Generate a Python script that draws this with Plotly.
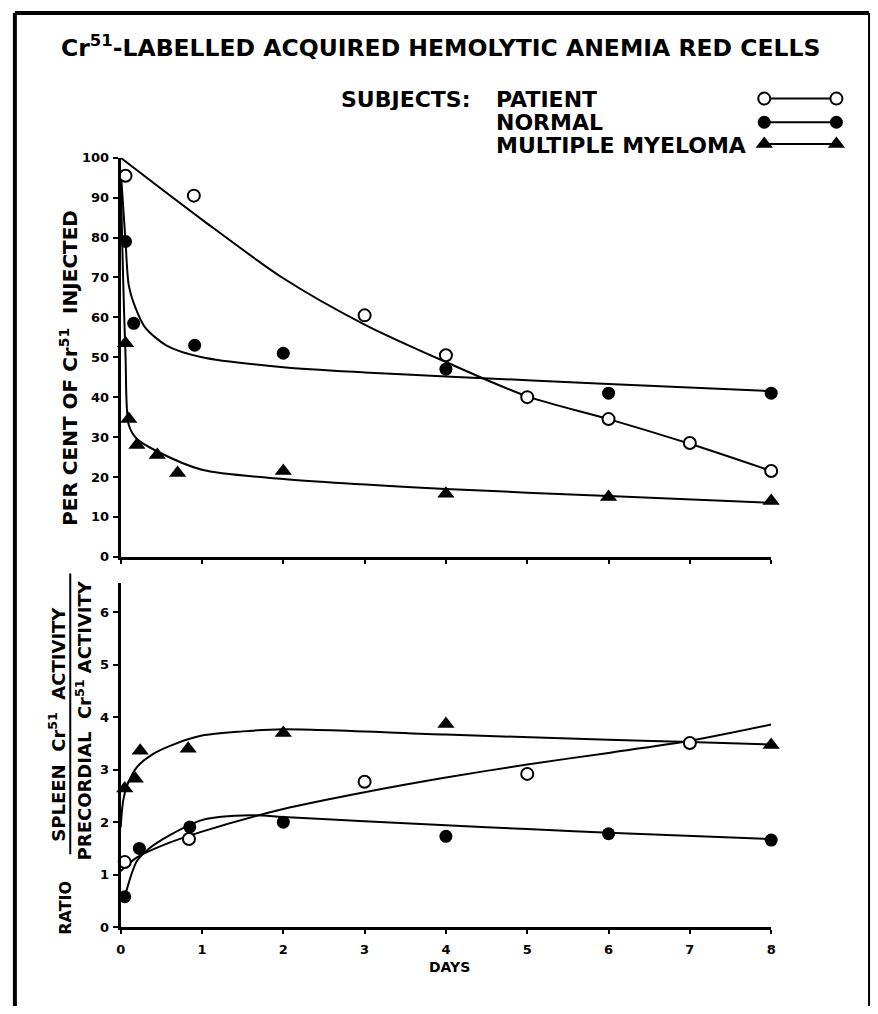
import plotly.graph_objects as go

# ---------------- data ----------------
# Top panel: per cent of Cr51 injected
pt_top_days = [0.06, 0.9, 3, 4, 5, 6, 7, 8]
pt_top_vals = [95.5, 90.5, 60.5, 50.5, 40, 34.5, 28.5, 21.5]
pt_top_curve_days = [0, 1, 2, 3, 4, 5, 6, 7, 8]
pt_top_curve_vals = [100, 84.5, 69.8, 58.2, 48.8, 40.2, 34.5, 28.3, 21.5]

nm_top_days = [0.06, 0.16, 0.91, 2, 4, 6, 8]
nm_top_vals = [79, 58.5, 53, 51, 47, 41, 41]
nm_top_curve_days = [0, 0.03, 0.06, 0.1, 0.18, 0.3, 0.56, 1.0, 2.0, 3.0, 4.0, 6.0, 8.0]
nm_top_curve_vals = [97, 88, 79, 68, 62.5, 57.5, 53, 50, 47.5, 46.2, 45.2, 43.3, 41.5]

mm_top_days = [0.06, 0.1, 0.2, 0.45, 0.7, 2, 4, 6, 8]
mm_top_vals = [53.5, 34.5, 28, 25.5, 21, 21.5, 15.8, 15, 14]
mm_top_curve_days = [0, 0.03, 0.06, 0.1, 0.2, 0.44, 1.0, 2.0, 4.0, 6.0, 8.0]
mm_top_curve_vals = [95, 70, 50, 33, 29.5, 26.5, 21.8, 19.5, 17, 15.2, 13.5]

# Bottom panel: ratio spleen / precordial activity
pt_bot_days = [0.05, 0.84, 3, 5, 7]
pt_bot_vals = [1.24, 1.68, 2.77, 2.92, 3.51]
pt_bot_curve_days = [0, 0.2, 0.5, 1, 2, 3, 4, 5, 6, 7, 8]
pt_bot_curve_vals = [1.07, 1.33, 1.55, 1.82, 2.25, 2.57, 2.85, 3.1, 3.32, 3.55, 3.86]

nm_bot_days = [0.05, 0.23, 0.85, 2, 4, 6, 8]
nm_bot_vals = [0.58, 1.5, 1.91, 2.0, 1.73, 1.78, 1.66]
nm_bot_curve_days = [0.05, 0.2, 0.35, 0.6, 1.0, 1.6, 2.0, 3.0, 4.0, 5.0, 6.0, 8.0]
nm_bot_curve_vals = [0.58, 1.26, 1.5, 1.75, 2.04, 2.13, 2.1, 2.02, 1.94, 1.87, 1.8, 1.68]

mm_bot_days = [0.05, 0.18, 0.24, 0.83, 2, 4, 8]
mm_bot_vals = [2.64, 2.83, 3.36, 3.4, 3.7, 3.87, 3.47]
mm_bot_curve_days = [0, 0.03, 0.08, 0.2, 0.4, 0.6, 1.0, 1.5, 2.0, 4.0, 6.0, 7.0, 8.0]
mm_bot_curve_vals = [1.9, 2.4, 2.7, 3.05, 3.3, 3.45, 3.65, 3.73, 3.77, 3.67, 3.57, 3.53, 3.48]

day_ticks = [0, 1, 2, 3, 4, 5, 6, 7, 8]
pct_ticks = [0, 10, 20, 30, 40, 50, 60, 70, 80, 90, 100]
ratio_ticks = [0, 1, 2, 3, 4, 5, 6]

legend_names = ["PATIENT", "NORMAL", "MULTIPLE MYELOMA"]

# ---------------- styling ----------------
W, H = 878, 1014
FONT = "DejaVu Sans"


def px(x):
    return x / W


def py(y):
    return 1 - y / H


open_marker = dict(symbol="circle", size=12, color="white", line=dict(color="black", width=2))
fill_marker = dict(symbol="circle", size=13, color="black", line=dict(color="black", width=0))
tri_marker = dict(symbol="triangle-up", size=15, color="black", line=dict(color="black", width=0))
curve_line = dict(color="black", width=2, shape="spline", smoothing=0.8)

fig = go.Figure()


def add_panel(xa, ya, sets):
    for cd, cv, d, v, mk in sets:
        fig.add_trace(go.Scatter(x=cd, y=cv, mode="lines", line=curve_line,
                                 xaxis=xa, yaxis=ya, showlegend=False, hoverinfo="skip"))
    for cd, cv, d, v, mk in sets:
        fig.add_trace(go.Scatter(x=d, y=v, mode="markers", marker=mk, cliponaxis=False,
                                 xaxis=xa, yaxis=ya, showlegend=False))


add_panel("x", "y", [
    (pt_top_curve_days, pt_top_curve_vals, pt_top_days, pt_top_vals, open_marker),
    (nm_top_curve_days, nm_top_curve_vals, nm_top_days, nm_top_vals, fill_marker),
    (mm_top_curve_days, mm_top_curve_vals, mm_top_days, mm_top_vals, tri_marker),
])
add_panel("x2", "y2", [
    (pt_bot_curve_days, pt_bot_curve_vals, pt_bot_days, pt_bot_vals, open_marker),
    (nm_bot_curve_days, nm_bot_curve_vals, nm_bot_days, nm_bot_vals, fill_marker),
    (mm_bot_curve_days, mm_bot_curve_vals, mm_bot_days, mm_bot_vals, tri_marker),
])

# legend keys drawn on a full-page pixel axis
leg_rows = [93, 117, 139]
for row, mk in zip(leg_rows, [open_marker, fill_marker, tri_marker]):
    fig.add_trace(go.Scatter(x=[768, 841], y=[row, row], mode="lines+markers",
                             line=dict(color="black", width=2), marker=mk, cliponaxis=False,
                             xaxis="x3", yaxis="y3", showlegend=False, hoverinfo="skip"))

xd = [px(117), px(775)]
axis_common = dict(showline=True, linecolor="black", linewidth=3, showgrid=False,
                   zeroline=False, ticks="outside", tickcolor="black", tickwidth=2,
                   tickfont=dict(family=FONT, size=13, color="black", weight="bold"))

fig.update_layout(
    width=W, height=H,
    margin=dict(l=0, r=0, t=0, b=0),
    paper_bgcolor="white", plot_bgcolor="rgba(0,0,0,0)",
    hovermode=False,
    xaxis=dict(domain=xd, range=[0, 8], anchor="y", tickvals=day_ticks,
               showticklabels=False, ticklen=4, **axis_common),
    yaxis=dict(domain=[py(558), py(153)], range=[0, 100], anchor="x",
               tickvals=pct_ticks, ticklen=5, ticklabelstandoff=1, **axis_common),
    xaxis2=dict(domain=xd, range=[0, 8], anchor="y2", tickvals=day_ticks,
                ticklen=4, ticklabelstandoff=4, **axis_common),
    yaxis2=dict(domain=[py(934), py(585)], range=[0, 6.55], anchor="x2",
                tickvals=ratio_ticks, ticklen=5, ticklabelstandoff=1, **axis_common),
    xaxis3=dict(domain=[0, 1], range=[0, W], anchor="y3", visible=False, fixedrange=True),
    yaxis3=dict(domain=[0, 1], range=[H, 0], anchor="x3", visible=False, fixedrange=True),
)

bold = lambda s: dict(family=FONT, size=s, color="black", weight="bold")
ann = []
ann.append(dict(text="Cr<sup>51</sup>-LABELLED ACQUIRED HEMOLYTIC ANEMIA RED CELLS",
                x=px(441), y=py(40), font=bold(23.5)))
ann.append(dict(text="SUBJECTS:", x=px(473), y=py(93), xanchor="right", font=bold(22),
                height=22, valign="middle"))
for name, row in zip(legend_names, [93, 117, 140]):
    ann.append(dict(text=name, x=px(495), y=py(row), xanchor="left", font=bold(22),
                    height=22, valign="middle"))
ann.append(dict(text="PER CENT OF Cr<sup>51</sup>  INJECTED", x=px(64), y=py(366),
                textangle=-90, font=bold(20)))
ann.append(dict(text="RATIO", x=px(61), y=py(914), textangle=-90, font=bold(16)))
ann.append(dict(text="SPLEEN  Cr<sup>51</sup>  ACTIVITY", x=px(53), y=py(728),
                textangle=-90, font=bold(18)))
ann.append(dict(text="PRECORDIAL  Cr<sup>51</sup> ACTIVITY", x=px(80), y=py(724),
                textangle=-90, font=bold(18)))
ann.append(dict(text="DAYS", x=px(450), y=py(974), font=bold(14)))
for a in ann:
    a.setdefault("xanchor", "center")
    a.update(xref="paper", yref="paper", yanchor="middle", showarrow=False)
fig.update_layout(annotations=ann)

fig.update_layout(shapes=[
    dict(type="line", xref="paper", yref="paper", x0=px(66), x1=px(66), y0=py(575), y1=py(860),
         line=dict(color="black", width=2)),
    dict(type="line", xref="paper", yref="paper", x0=px(10), x1=px(10), y0=py(6), y1=py(1014),
         line=dict(color="black", width=4)),
    dict(type="line", xref="paper", yref="paper", x0=px(10), x1=px(874), y0=py(6), y1=py(6),
         line=dict(color="black", width=4)),
    dict(type="line", xref="paper", yref="paper", x0=px(874), x1=px(874), y0=py(6), y1=py(1014),
         line=dict(color="black", width=2)),
])

post = (
    "document.documentElement.style.margin='0';"
    "document.documentElement.style.overflow='hidden';"
    "document.body.style.margin='0';document.body.style.padding='0';"
    "document.body.style.overflow='hidden';"
    "var gd=document.getElementsByClassName('plotly-graph-div')[0];"
    "gd.style.position='fixed';gd.style.left='0px';gd.style.top='0px';"
)
fig.write_html("out.html", config={"displayModeBar": False}, post_script=post)
